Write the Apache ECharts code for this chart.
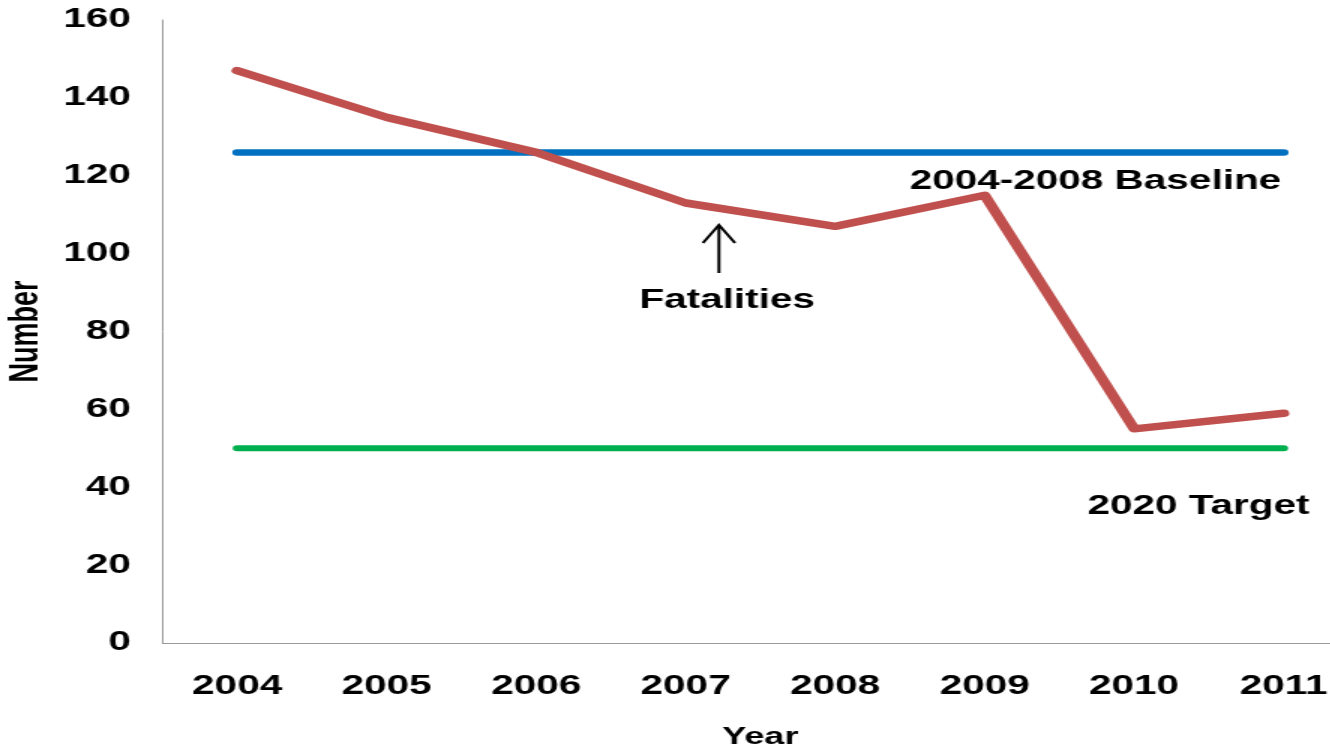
<!DOCTYPE html>
<html>
<head>
<meta charset="utf-8">
<script src="https://cdn.jsdelivr.net/npm/echarts@6/dist/echarts.min.js"></script>
<style>
  html, body { margin: 0; padding: 0; overflow: hidden; background: #fff; width: 1330px; height: 747px; }
  /* the chart is laid out narrow and widened horizontally */
  #chart { width: 933px; height: 747px; transform: scaleX(1.5); transform-origin: 0 0; }
</style>
</head>
<body>
<div id="chart"></div>
<script>
// Road fatalities per year against the 2004-2008 baseline and the 2020 target
const years = ['2004', '2005', '2006', '2007', '2008', '2009', '2010', '2011'];
const fatalities = [147, 135, 126, 113, 107, 115, 55, 59];
const baseline = [126, 126, 126, 126, 126, 126, 126, 126];
const target = [50, 50, 50, 50, 50, 50, 50, 50];
const yTicks = { min: 0, max: 160, interval: 20 };

const FONT = 'Liberation Sans, Arial, sans-serif';

const chart = echarts.init(document.getElementById('chart'), null, { renderer: 'canvas' });

chart.setOption({
  animation: false,
  backgroundColor: '#ffffff',
  grid: { left: 108.3, top: 20, width: 797.3, height: 623, outerBoundsMode: 'none', containLabel: false },
  xAxis: {
    type: 'category',
    data: years,
    boundaryGap: true,
    name: 'Year',
    nameLocation: 'middle',
    nameGap: 82,
    nameTextStyle: { fontFamily: FONT, fontWeight: 'bold', fontSize: 24, color: '#000' },
    axisLine: { show: true, lineStyle: { color: '#9a9a9a', width: 1 } },
    axisTick: { show: false },
    axisLabel: { fontFamily: FONT, fontWeight: 'bold', fontSize: 27, color: '#000', margin: 30 },
    splitLine: { show: false }
  },
  yAxis: {
    type: 'value',
    min: yTicks.min,
    max: yTicks.max,
    interval: yTicks.interval,
    name: 'Number',
    nameLocation: 'middle',
    nameGap: 76,
    nameRotate: 90,
    nameTextStyle: { fontFamily: FONT, fontWeight: 'bold', fontSize: 27, color: '#000' },
    axisLine: { show: true, lineStyle: { color: '#9a9a9a', width: 1 } },
    axisTick: { show: false },
    axisLabel: { fontFamily: FONT, fontWeight: 'bold', fontSize: 27, color: '#000', margin: 21 },
    splitLine: { show: false }
  },
  series: [
    {
      name: '2004-2008 Baseline',
      type: 'line',
      data: baseline,
      symbol: 'none',
      z: 2,
      lineStyle: { color: '#0070C0', width: 6.5, cap: 'round' }
    },
    {
      name: '2020 Target',
      type: 'line',
      data: target,
      symbol: 'none',
      z: 2,
      lineStyle: { color: '#00B050', width: 6, cap: 'round' }
    },
    {
      name: 'Fatalities',
      type: 'line',
      data: fatalities,
      symbol: 'none',
      z: 3,
      lineStyle: { color: '#C0504D', width: 7.5, cap: 'round', join: 'round' }
    }
  ],
  graphic: [
    {
      type: 'text', z: 10,
      x: 730.3, y: 182,
      style: { text: '2004-2008 Baseline', fontFamily: FONT, fontWeight: 'bold', fontSize: 27, fill: '#000', align: 'center', verticalAlign: 'middle' }
    },
    {
      type: 'text', z: 10,
      x: 799, y: 507,
      style: { text: '2020 Target', fontFamily: FONT, fontWeight: 'bold', fontSize: 27, fill: '#000', align: 'center', verticalAlign: 'middle' }
    },
    {
      type: 'text', z: 10,
      x: 484.7, y: 301,
      style: { text: 'Fatalities', fontFamily: FONT, fontWeight: 'bold', fontSize: 27, fill: '#000', align: 'center', verticalAlign: 'middle' }
    },
    {
      type: 'polyline', z: 10,
      shape: { points: [[479.3, 273], [479.3, 226]] },
      style: { stroke: '#000', lineWidth: 2, fill: null }
    },
    {
      type: 'polyline', z: 10,
      shape: { points: [[468.6, 243], [479.3, 225], [490, 243]] },
      style: { stroke: '#000', lineWidth: 2, fill: null }
    }
  ]
});
</script>
</body>
</html>
